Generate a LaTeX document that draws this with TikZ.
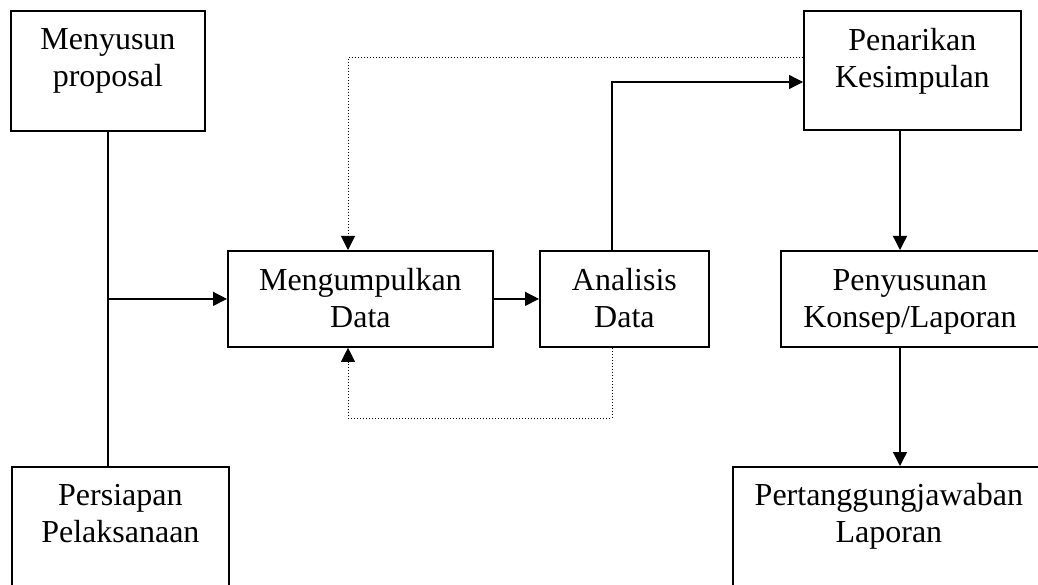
\documentclass[tikz,border=0pt]{standalone}
\usepackage{fontspec}
\setmainfont{Liberation Serif}
\usetikzlibrary{arrows.meta}
\begin{document}
\begin{tikzpicture}[x=1pt,y=-1pt,
  box/.style={draw, line width=1.8pt, rectangle, inner sep=0pt, align=center,
    font=\fontsize{32}{37}\selectfont, anchor=north west},
  arr/.style={line width=1.3pt, -{Triangle[length=14pt,width=14pt]}},
  plain/.style={line width=1.3pt},
  dotarr/.style={line width=1pt, dash pattern=on 1pt off 2pt, -{Triangle[length=14pt,width=14pt]}}]
\useasboundingbox (0,0) rectangle (1038,585);
\node[box, minimum width=194pt, minimum height=120pt, text height=76pt, text depth=44pt] (b1) at (10,10) {Menyusun\\proposal};
\node[box, minimum width=217pt, minimum height=154pt, text height=76pt, text depth=78pt] (b2) at (11,466) {Persiapan\\Pelaksanaan};
\node[box, minimum width=265pt, minimum height=96pt, text height=77pt, text depth=19pt] (b3) at (227,250) {Mengumpulkan\\Data};
\node[box, minimum width=169pt, minimum height=96pt, text height=77pt, text depth=19pt] (b4) at (539,250) {Analisis\\Data};
\node[box, minimum width=217pt, minimum height=119pt, text height=77pt, text depth=42pt] (b5) at (803,10) {Penarikan\\Kesimpulan};
\node[box, minimum width=258pt, minimum height=96pt, text height=77pt, text depth=19pt] (b6) at (780,250) {Penyusunan\\Konsep/Laporan};
\node[box, minimum width=312pt, minimum height=154pt, text height=76pt, text depth=78pt] (b7) at (732,466) {Pertanggungjawaban\\Laporan};
\coordinate (up) at (612,82);
\coordinate (dt) at (348,58);
\coordinate (db) at (348,418);
\coordinate (vx) at (900,0);
\draw[plain] (b1.south) -- (b1.south |- b2.north);
\draw[arr] (b1.south |- b3.west) -- (b3.west);
\draw[arr] (b3.east) -- (b4.west);
\draw[arr] (b4.north -| up) -- (up) -- (up -| b5.west);
\draw[dotarr] (dt -| b5.west) -- (dt) -- (dt |- b3.north);
\draw[dotarr] (b4.south -| up) -- (up |- db) -- (db) -- (db |- b3.south);
\draw[arr] (b5.south -| vx) -- (b6.north -| vx);
\draw[arr] (b6.south -| vx) -- (b7.north -| vx);
\end{tikzpicture}
\end{document}
